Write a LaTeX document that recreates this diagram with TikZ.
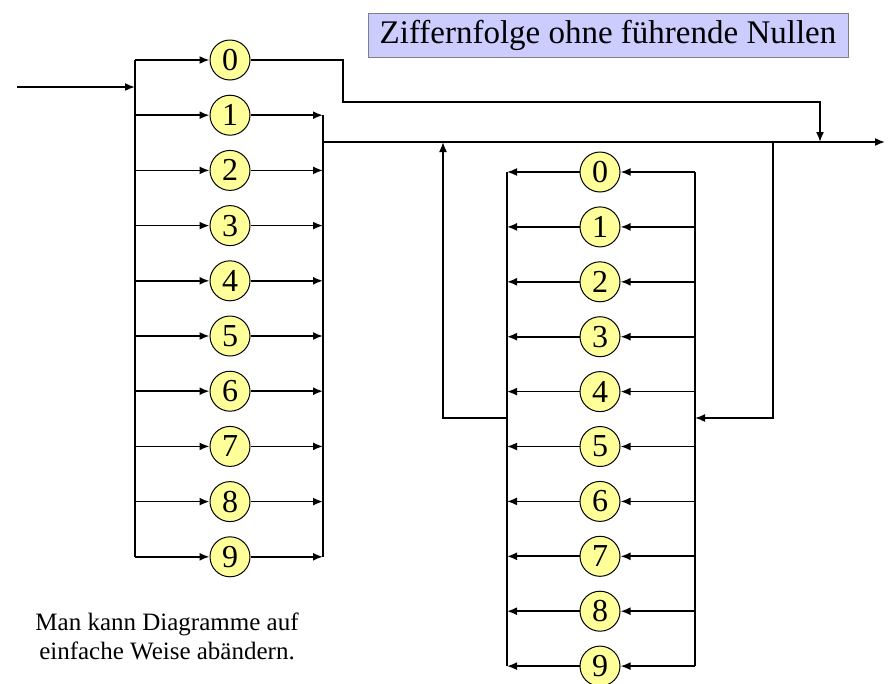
\documentclass[tikz,border=0pt]{standalone}
\usepackage{fontspec}
\setmainfont{Liberation Serif}
\usepackage{xcolor}
\usetikzlibrary{arrows.meta}
\definecolor{digityellow}{HTML}{FFFF99}
\definecolor{titleblue}{HTML}{CCCCFF}

\begin{document}
\begin{tikzpicture}[x=1pt,y=-1pt,
  digit/.style={circle, draw, line width=1pt, fill=digityellow, minimum size=40pt,
    inner sep=0pt, font=\fontsize{32}{32}\selectfont},
  wire/.style={line width=1.7pt},
  flow/.style={wire, -{Latex[length=10pt,width=8pt]}}]
  \useasboundingbox (0,0) rectangle (890,683);

  %% Title box
  \node[draw=gray, line width=1pt, fill=titleblue, minimum width=480pt, minimum height=44pt,
    font=\fontsize{33}{33}\selectfont] (title) at (608,35) {Ziffernfolge ohne führende Nullen};

  %% Left column: first digit, any of 0..9
  \foreach \i in {0,...,9} {
    \node[digit] (l\i) at (230,60+55.2*\i) {\i};
    \coordinate (la\i) at (135,60+55.2*\i);
    \draw[flow] (la\i) -- (l\i);
  }
  \foreach \i in {1,...,9} {
    \coordinate (lb\i) at (323,60+55.2*\i);
    \draw[flow] (l\i) -- (lb\i);
  }
  \draw[wire] (la0) -- (la9);
  \draw[wire] (lb1) -- (lb9);

  %% Entry and main line
  \coordinate (in) at (17,87);
  \coordinate (inbus) at (135,87);
  \draw[flow] (in) -- (inbus);
  \coordinate (main) at (323,142);
  \coordinate (out) at (885,142);
  \draw[flow] (main) -- (out);

  %% Zero leaves at once
  \coordinate (zbend) at (343,102);
  \coordinate (zjoin) at (820,142);
  \draw[flow] (l0) -| (zbend) -| (zjoin);

  %% Right column: loop for further digits
  \foreach \i in {0,...,9} {
    \node[digit] (r\i) at (600,172+54.9*\i) {\i};
    \coordinate (ra\i) at (695,172+54.9*\i);
    \coordinate (rb\i) at (507,172+54.9*\i);
    \draw[flow] (ra\i) -- (r\i);
    \draw[flow] (r\i) -- (rb\i);
  }
  \draw[wire] (ra0) -- (ra9);
  \draw[wire] (rb0) -- (rb9);

  %% Loop wires
  \coordinate (fbtop) at (773,142);
  \coordinate (fbin) at (695,418);
  \draw[flow] (fbtop) |- (fbin);
  \coordinate (fbout) at (507,418);
  \coordinate (fbback) at (443,142);
  \draw[flow] (fbout) -| (fbback);

  %% Note
  \node[align=center, font=\fontsize{25}{29}\selectfont] (note) at (167,636)
    {Man kann Diagramme auf\\einfache Weise abändern.};
\end{tikzpicture}
\end{document}
